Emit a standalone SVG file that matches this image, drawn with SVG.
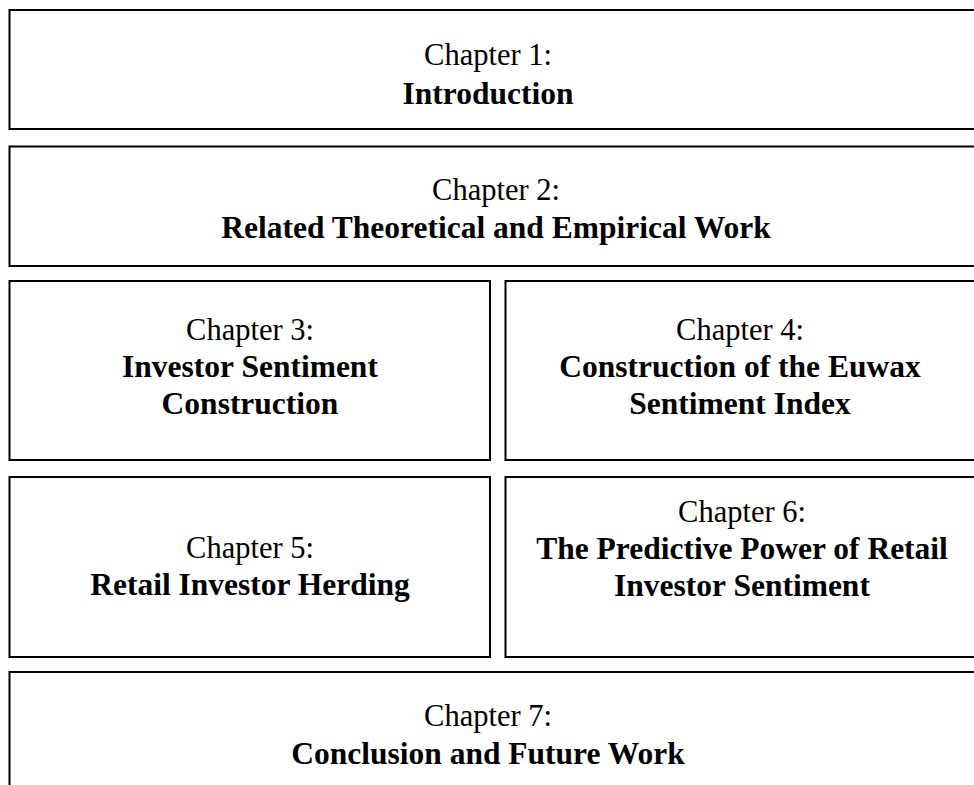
<svg xmlns="http://www.w3.org/2000/svg" width="974" height="785" viewBox="0 0 974 785">
  <style>
    .box { fill: #ffffff; stroke: #000000; stroke-width: 2; }
    .t { font-family: "Liberation Serif", "Times New Roman", serif; font-size: 30.5px; fill: #000000; text-anchor: middle; }
    .b { font-weight: bold; font-size: 31.5px; }
  </style>
  <rect width="974" height="785" fill="#ffffff"/>
  <g id="ch1">
    <rect class="box" x="9.5" y="10" width="980" height="119"/>
    <text class="t" x="488" y="65">Chapter 1:</text>
    <text class="t b" x="488" y="104">Introduction</text>
  </g>
  <g id="ch2">
    <rect class="box" x="9.5" y="146.5" width="980" height="119.5"/>
    <text class="t" x="496" y="200">Chapter 2:</text>
    <text class="t b" x="496" y="238">Related Theoretical and Empirical Work</text>
  </g>
  <g id="ch3">
    <rect class="box" x="9.5" y="281" width="480.5" height="179"/>
    <text class="t" x="250" y="340">Chapter 3:</text>
    <text class="t b" x="250" y="377">Investor Sentiment</text>
    <text class="t b" x="250" y="414">Construction</text>
  </g>
  <g id="ch4">
    <rect class="box" x="505.5" y="281" width="480" height="179"/>
    <text class="t" x="740" y="340">Chapter 4:</text>
    <text class="t b" x="740" y="377">Construction of the Euwax</text>
    <text class="t b" x="740" y="414">Sentiment Index</text>
  </g>
  <g id="ch5">
    <rect class="box" x="9.5" y="477" width="480.5" height="180"/>
    <text class="t" x="250" y="558">Chapter 5:</text>
    <text class="t b" x="250" y="595">Retail Investor Herding</text>
  </g>
  <g id="ch6">
    <rect class="box" x="505.5" y="477" width="480" height="180"/>
    <text class="t" x="742" y="522">Chapter 6:</text>
    <text class="t b" x="742" y="559">The Predictive Power of Retail</text>
    <text class="t b" x="742" y="596">Investor Sentiment</text>
  </g>
  <g id="ch7">
    <rect class="box" x="9.5" y="672" width="980" height="150"/>
    <text class="t" x="488" y="726">Chapter 7:</text>
    <text class="t b" x="488" y="764">Conclusion and Future Work</text>
  </g>
  <g id="connectors"/>
</svg>
